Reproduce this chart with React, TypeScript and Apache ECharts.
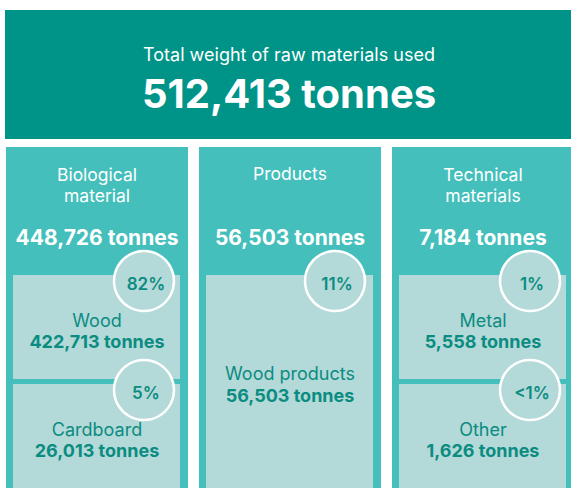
import React, { useEffect, useRef } from "react";
import * as echarts from "echarts";

const totalTitle = "Total weight of raw materials used";
const totalValue = 512413;

const groupNames = [["Biological", "material"], ["Products"], ["Technical", "materials"]];
const groupTotals = [448726, 56503, 7184];

const itemNames = [["Wood", "Cardboard"], ["Wood products"], ["Metal", "Other"]];
const itemValues = [[422713, 26013], [56503], [5558, 1626]];
const itemShares = [["82%", "5%"], ["11%"], ["1%", "<1%"]];

const FONT = "Inter, 'Noto Sans', sans-serif";
const C_TOP = "#009488";
const C_COL = "#44bfbc";
const C_BOX = "#b3d9d9";
const C_TXT = "#0b8c81";

const fmt = (v: number) => v.toLocaleString("en-US") + " tonnes";

function buildGraphic() {
  const els: any[] = [];
  els.push({ type: "rect", shape: { x: 5, y: 10, width: 580, height: 129 }, style: { fill: C_TOP } });
  els.push({ type: "text", x: 289, y: 54, style: { text: totalTitle, fill: "#fff", font: `400 18px ${FONT}`, align: "center", verticalAlign: "middle" } });
  els.push({ type: "text", x: 289, y: 93, style: { text: fmt(totalValue), fill: "#fff", font: `700 40px ${FONT}`, align: "center", verticalAlign: "middle" } });

  const colX = [6, 199, 392];
  const colW = 182;
  const colTop = 147;
  const boxTop = 275;
  const boxBottom = 488;
  groupNames.forEach((names, g) => {
    const x0 = colX[g];
    const cx = x0 + colW / 2;
    els.push({ type: "rect", shape: { x: x0, y: colTop, width: colW, height: 488 - colTop }, style: { fill: C_COL } });
    if (names.length === 2) {
      els.push({ type: "text", x: cx, y: 174, style: { text: names[0], fill: "#fff", font: `400 17.5px ${FONT}`, align: "center", verticalAlign: "middle" } });
      els.push({ type: "text", x: cx, y: 195, style: { text: names[1], fill: "#fff", font: `400 17.5px ${FONT}`, align: "center", verticalAlign: "middle" } });
    } else {
      els.push({ type: "text", x: cx, y: 173, style: { text: names[0], fill: "#fff", font: `400 17.5px ${FONT}`, align: "center", verticalAlign: "middle" } });
    }
    els.push({ type: "text", x: cx, y: 237, style: { text: fmt(groupTotals[g]), fill: "#fff", font: `700 21px ${FONT}`, align: "center", verticalAlign: "middle" } });

    const items = itemNames[g];
    const bx = x0 + 7;
    const bw = colW - 15;
    if (items.length === 1) {
      els.push({ type: "rect", shape: { x: bx, y: boxTop, width: bw, height: boxBottom - boxTop }, style: { fill: C_BOX } });
      els.push({ type: "text", x: cx, y: 373, style: { text: items[0], fill: C_TXT, font: `400 18px ${FONT}`, align: "center", verticalAlign: "middle" } });
      els.push({ type: "text", x: cx, y: 395, style: { text: fmt(itemValues[g][0]), fill: C_TXT, font: `700 18px ${FONT}`, align: "center", verticalAlign: "middle" } });
      els.push({ type: "circle", shape: { cx: x0 + 136, cy: boxTop + 6, r: 30 }, style: { fill: C_BOX, stroke: "#fff", lineWidth: 2.5 } });
      els.push({ type: "text", x: x0 + 138, y: boxTop + 9, style: { text: itemShares[g][0], fill: C_TXT, font: `600 17px ${FONT}`, align: "center", verticalAlign: "middle" } });
    } else {
      const tops = [boxTop, 384];
      const bots = [379, boxBottom];
      items.forEach((nm, i) => {
        els.push({ type: "rect", shape: { x: bx, y: tops[i], width: bw, height: bots[i] - tops[i] }, style: { fill: C_BOX } });
        els.push({ type: "text", x: cx, y: tops[i] + 45, style: { text: nm, fill: C_TXT, font: `400 18px ${FONT}`, align: "center", verticalAlign: "middle" } });
        els.push({ type: "text", x: cx, y: tops[i] + 66, style: { text: fmt(itemValues[g][i]), fill: C_TXT, font: `700 18px ${FONT}`, align: "center", verticalAlign: "middle" } });
      });
      items.forEach((nm, i) => {
        els.push({ type: "circle", shape: { cx: x0 + 138, cy: tops[i] + 6, r: 30 }, style: { fill: C_BOX, stroke: "#fff", lineWidth: 2.5 } });
        els.push({ type: "text", x: x0 + 140, y: tops[i] + 9, style: { text: itemShares[g][i], fill: C_TXT, font: `600 17px ${FONT}`, align: "center", verticalAlign: "middle" } });
      });
    }
  });
  return els;
}

export default function App() {
  const ref = useRef<HTMLDivElement>(null);
  useEffect(() => {
    document.body.style.margin = "0";
    const chart = echarts.init(ref.current!, null, { renderer: "svg" });
    chart.setOption({
      animation: false,
      backgroundColor: "#fff",
      graphic: buildGraphic(),
    });
    return () => chart.dispose();
  }, []);
  return <div ref={ref} style={{ width: 571, height: 488 }} />;
}
